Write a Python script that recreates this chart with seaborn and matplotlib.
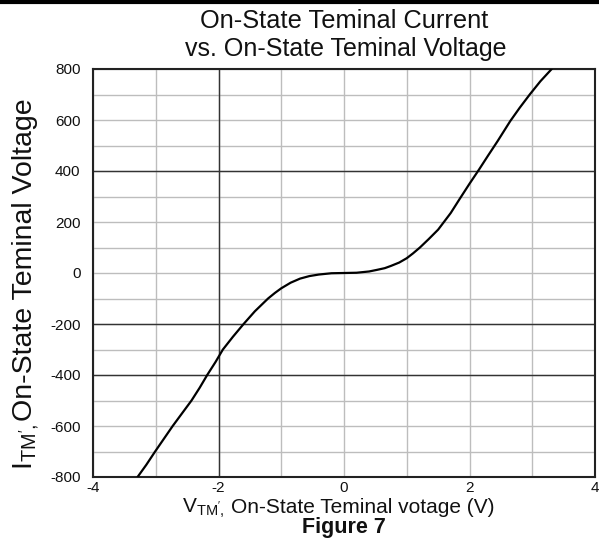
import matplotlib
matplotlib.use("Agg")
import matplotlib.pyplot as plt
from matplotlib.lines import Line2D
import numpy as np
import pandas as pd
import seaborn as sns

# Data
voltage = [-3.29, -3.15, -3.01, -2.87, -2.73, -2.58, -2.43, -2.30, -2.18, -2.05, -1.93, -1.77,
           -1.60, -1.42, -1.21, -1.10, -1.00, -0.85, -0.70, -0.55, -0.40, -0.20, 0.00,
           0.20, 0.40, 0.52, 0.65, 0.75, 0.88, 1.00, 1.10, 1.21, 1.35, 1.50, 1.70, 1.85,
           2.00, 2.15, 2.30, 2.45, 2.65, 2.80, 2.96, 3.13, 3.31]
current = [-800, -752, -700, -650, -600, -550, -500, -450, -400, -350, -300, -250,
           -200, -150, -100, -78, -60, -38, -22, -12, -6, -1, 0,
           1, 6, 12, 19, 28, 41, 58, 77, 100, 133, 170, 235, 293,
           350, 405, 462, 518, 596, 648, 700, 752, 800]
x_ticks = [-4, -2, 0, 2, 4]
y_ticks = [-800, -600, -400, -200, 0, 200, 400, 600, 800]

sns.set_theme(style="white")
plt.rcParams['font.family'] = ['Liberation Sans', 'DejaVu Sans']
plt.rcParams['mathtext.fontset'] = 'custom'
plt.rcParams['mathtext.rm'] = 'Liberation Sans'
plt.rcParams['mathtext.it'] = 'Liberation Sans'
plt.rcParams['axes.unicode_minus'] = False

df = pd.DataFrame({"V": voltage, "I": current})

W, H = 599, 559
fig = plt.figure(figsize=(W/100, H/100), dpi=100)
ax = fig.add_axes([93/W, (H-477)/H, (595-93)/W, (477-69)/H])

ax.set_xlim(-4, 4)
ax.set_ylim(-800, 800)
ax.set_xticks(x_ticks)
ax.set_yticks(y_ticks)
ax.set_xticks(np.arange(-3, 4, 2), minor=True)
ax.set_yticks(np.arange(-700, 800, 200), minor=True)
ax.grid(True, which='both', color='#bdbdbd', linewidth=1.0)
for v in [-2]:
    ax.axvline(v, color='#333333', linewidth=1.0, zorder=1)
for h in [400, -200, -400]:
    ax.axhline(h, color='#333333', linewidth=1.0, zorder=1)

sns.lineplot(data=df, x="V", y="I", sort=False, estimator=None, color='black',
             linewidth=1.6, ax=ax, zorder=3)

for s in ax.spines.values():
    s.set_color('#222222')
    s.set_linewidth(1.5)

ax.tick_params(axis='both', which='both', length=0, labelsize=11, colors='#111111')
ax.tick_params(axis='x', pad=3)
ax.tick_params(axis='y', pad=9)
ax.set_xlabel("")
ax.set_ylabel("")

def fx(px):
    return px / W

def fy(py):
    return 1 - py / H

# x-axis label (two pieces, to match spacing of the original)
fig.text(fx(182), fy(513), r"V$_{\mathrm{TM}',}$", ha='left', va='baseline',
         fontsize=15, color='#111111')
fig.text(fx(231), fy(513), "On-State Teminal votage (V)", ha='left', va='baseline',
         fontsize=15, color='#111111')

# y-axis label (rotated, two pieces)
fig.text(fx(32), fy(470), r"I$_{\mathrm{TM}',}$", ha='left', va='baseline', rotation=90,
         rotation_mode='anchor', fontsize=20.5, color='#111111')
fig.text(fx(32), fy(421), "On-State Teminal Voltage", ha='left', va='baseline', rotation=90,
         rotation_mode='anchor', fontsize=20.5, color='#111111')

fig.text(fx(344), fy(21), "On-State Teminal Current", ha='center', va='center', fontsize=18.3, color='#111111')
fig.text(fx(346), fy(49), "vs. On-State Teminal Voltage", ha='center', va='center', fontsize=18.0, color='#111111')
fig.text(fx(344), fy(528), "Figure 7", ha='center', va='center', fontsize=15.5, fontweight='bold', color='#111111')

fig.add_artist(Line2D([0, 1], [fy(2), fy(2)], color='black', linewidth=3, transform=fig.transFigure))

fig.savefig("out.png", dpi=100)
